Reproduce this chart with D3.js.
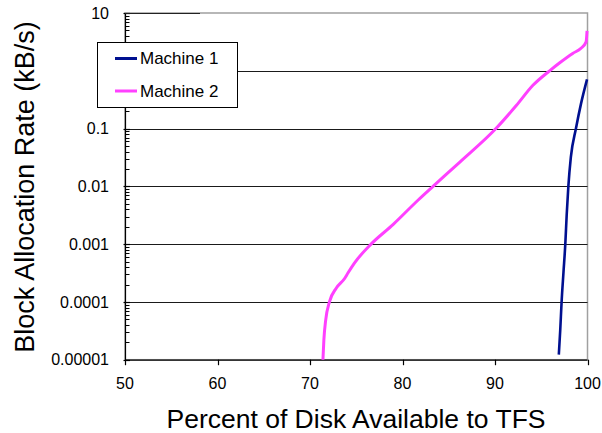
<!DOCTYPE html>
<html lang="en">
	<head>
		<meta charset="UTF-8" />
		<title>Block Allocation Rate</title>
		<script src="https://cdn.jsdelivr.net/npm/d3@7"></script>
		<style>
			body { margin: 0; background: #fff; }
			text { font-family: "Liberation Sans", Arial, sans-serif; fill: #000; }
		</style>
	</head>
	<body>
		<svg id="chart"></svg>
		<script>
			// data (x = percent available, y = kB/s)
			var seriesNames = ["Machine 1", "Machine 2"];
			var seriesColors = ["#001090", "#ff40ff"];

			var machine1X = [96.9, 97.05, 97.2, 97.4, 97.6, 97.75, 97.93, 98.2, 98.75, 99.3, 99.95];
			var machine1Y = [1.23e-5, 3.2e-5, 1e-4, 3.2e-4, 1e-3, 3.2e-3, 0.01, 0.032, 0.1, 0.27, 0.71];

			var machine2X = [71.4, 71.5, 71.7, 72.1, 72.85, 73.76, 74.1, 74.8, 76.6, 79.0, 81.67, 83.3, 86.2, 90.1, 92.3, 94.1, 95.9, 97.0, 98.4, 99.3, 99.85, 99.95];
			var machine2Y = [1e-5, 2.2e-5, 4.9e-5, 1e-4, 1.74e-4, 2.57e-4, 3.16e-4, 4.7e-4, 1e-3, 2.2e-3, 5.75e-3, 0.01, 0.0263, 0.1, 0.25, 0.56, 1, 1.38, 2.0, 2.45, 3.16, 4.9];

			var xTicks = [50, 60, 70, 80, 90, 100];
			var yTicks = [10, 1, 0.1, 0.01, 0.001, 0.0001, 0.00001];
			var yTickLabels = ["10", "1", "0.1", "0.01", "0.001", "0.0001", "0.00001"];
			var xTitle = "Percent of Disk Available to TFS";
			var yTitle = "Block Allocation Rate (kB/s)";

			(function () {
				var width = 602;
				var height = 433;
				var pLeft = 125, pRight = 587.5, pTop = 13, pBottom = 359.7;

				var svg = d3.select("#chart").attr("width", width).attr("height", height);

				var x = d3.scaleLinear().domain([50, 100]).range([pLeft, pRight]);
				var y = d3.scaleLog().domain([0.00001, 10]).range([pBottom, pTop]);

				// plot area border (grey)
				svg.append("rect")
					.attr("x", pLeft).attr("y", pTop)
					.attr("width", pRight - pLeft).attr("height", pBottom - pTop)
					.attr("fill", "none").attr("stroke", "#a0a0a0").attr("stroke-width", 1.5);

				// horizontal gridlines
				svg.append("g")
					.selectAll("line")
					.data(yTicks.slice(1, -1))
					.enter()
					.append("line")
					.attr("x1", pLeft).attr("x2", pRight)
					.attr("y1", function (d) { return Math.round(y(d)) + 0.5; })
					.attr("y2", function (d) { return Math.round(y(d)) + 0.5; })
					.attr("stroke", "#1a1a1a").attr("stroke-width", 1);

				// y axis with minor log ticks inside
				var minor = [];
				for (var e = -5; e < 1; e++) {
					for (var m = 2; m <= 9; m++) minor.push(m * Math.pow(10, e));
				}
				var gy = svg.append("g");
				gy.append("line")
					.attr("x1", pLeft + 0.5).attr("x2", pLeft + 0.5)
					.attr("y1", pTop).attr("y2", pBottom + 0.5)
					.attr("stroke", "#000").attr("stroke-width", 1.2);
				gy.selectAll(".minor")
					.data(minor)
					.enter()
					.append("line")
					.attr("class", "minor")
					.attr("x1", pLeft).attr("x2", pLeft + 4.5)
					.attr("y1", function (d) { return Math.round(y(d)) + 0.5; })
					.attr("y2", function (d) { return Math.round(y(d)) + 0.5; })
					.attr("stroke", "#000").attr("stroke-width", 1);
				gy.selectAll(".major")
					.data(yTicks)
					.enter()
					.append("line")
					.attr("class", "major")
					.attr("x1", pLeft - 1.5).attr("x2", pLeft + 5)
					.attr("y1", function (d) { return Math.round(y(d)) + 0.5; })
					.attr("y2", function (d) { return Math.round(y(d)) + 0.5; })
					.attr("stroke", "#000").attr("stroke-width", 1.2);
				// short dark piece of the top line, as in the original
				gy.append("line")
					.attr("x1", pLeft).attr("x2", pLeft + 75)
					.attr("y1", Math.round(y(10)) + 0.5).attr("y2", Math.round(y(10)) + 0.5)
					.attr("stroke", "#222").attr("stroke-width", 1);
				gy.selectAll("text")
					.data(yTicks)
					.enter()
					.append("text")
					.attr("x", 109)
					.attr("y", function (d) { return y(d); })
					.attr("dy", "0.35em")
					.attr("text-anchor", "end")
					.style("font-size", "16px")
					.text(function (d, i) { return yTickLabels[i]; });

				// x axis
				var gx = svg.append("g");
				gx.append("line")
					.attr("x1", pLeft).attr("x2", pRight)
					.attr("y1", pBottom + 0.5).attr("y2", pBottom + 0.5)
					.attr("stroke", "#000").attr("stroke-width", 1.2);
				gx.selectAll(".tick")
					.data(xTicks)
					.enter()
					.append("line")
					.attr("x1", function (d) { return Math.round(x(d)) + 0.5; })
					.attr("x2", function (d) { return Math.round(x(d)) + 0.5; })
					.attr("y1", pBottom).attr("y2", pBottom + 5.5)
					.attr("stroke", "#000").attr("stroke-width", 1.2);
				gx.selectAll("text")
					.data(xTicks)
					.enter()
					.append("text")
					.attr("x", function (d) { return x(d); })
					.attr("y", 389)
					.attr("text-anchor", "middle")
					.style("font-size", "16px")
					.text(function (d) { return d; });

				// axis titles
				svg.append("text")
					.attr("x", 356).attr("y", 428)
					.attr("text-anchor", "middle")
					.style("font-size", "26.5px")
					.text(xTitle);
				svg.append("text")
					.attr("transform", "translate(34,187) rotate(-90)")
					.attr("text-anchor", "middle")
					.style("font-size", "27px")
					.text(yTitle);

				// series lines
				var line = d3.line()
					.x(function (d) { return x(d[0]); })
					.y(function (d) { return y(d[1]); })
					.curve(d3.curveMonotoneX);

				var series = [
					d3.zip(machine1X, machine1Y),
					d3.zip(machine2X, machine2Y)
				];
				svg.append("g")
					.selectAll("path")
					.data(series)
					.enter()
					.append("path")
					.attr("d", line)
					.attr("fill", "none")
					.attr("stroke", function (d, i) { return seriesColors[i]; })
					.attr("stroke-width", function (d, i) { return i === 0 ? 2.6 : 3; })
					.attr("stroke-linejoin", "round");

				// legend
				var legend = svg.append("g");
				legend.append("rect")
					.attr("x", 97.5).attr("y", 42.5)
					.attr("width", 140).attr("height", 65)
					.attr("fill", "#fff").attr("stroke", "#000").attr("stroke-width", 1);
				var rows = legend.selectAll(".row")
					.data(seriesNames)
					.enter()
					.append("g")
					.attr("transform", function (d, i) { return "translate(0," + (58.5 + i * 32.5) + ")"; });
				rows.append("line")
					.attr("x1", 115).attr("x2", 137)
					.attr("stroke", function (d, i) { return seriesColors[i]; })
					.attr("stroke-width", 3);
				rows.append("text")
					.attr("x", 140).attr("dy", "0.35em")
					.style("font-size", "17px")
					.text(function (d) { return d; });
			})();
		</script>
	</body>
</html>
